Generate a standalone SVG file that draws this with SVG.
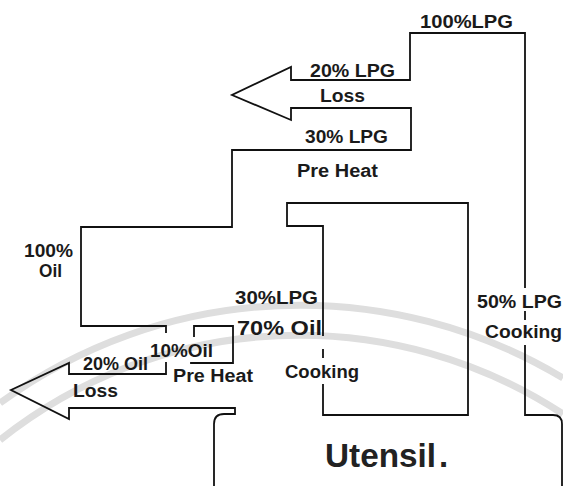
<svg xmlns="http://www.w3.org/2000/svg" width="563" height="486" viewBox="0 0 563 486">
<style>
.ln{fill:none;stroke:#111;stroke-width:1.8;stroke-linejoin:miter;stroke-linecap:square}
.t{font-family:"Liberation Sans",Arial,sans-serif;font-weight:bold;font-size:17.5px;fill:#1a1a1a}
.big{font-size:20px}
.ut{font-family:"Liberation Sans",Arial,sans-serif;font-weight:bold;font-size:33px;fill:#222}
.wm{fill:none;stroke:#dedede;stroke-width:7}
</style>
<rect width="563" height="486" fill="#fff"/>
<g id="watermark">
<path class="wm" d="M 0 403 A 510 510 0 0 1 563 378"/>
<path class="wm" d="M 0 440 A 480 480 0 0 1 563 414"/>
</g>
<g id="connectors">
<path id="lpg-flow" class="ln" d="M 525 287 L 525 33 L 410 33 L 410 80 L 291 80 L 291 67 L 232 95 L 291 120 L 291 108 L 411 108 L 411 150 L 232 150 L 232 227 L 81 227 L 81 326 L 166 326 L 166 332"/>
<path class="ln" d="M 525 312 V 319 M 525 346 V 415 H 553 Q 562 415 562 424 V 490"/>
<path id="oil-loss" class="ln" d="M 166 363 V 374 H 69 V 363 L 11 390 L 69 419 V 408 H 235 V 414 H 224 Q 214 414 214 424 V 490"/>
</g>
<g id="cooking-box">
<path class="ln" d="M 323 335 V 226 H 287 V 203 H 468 V 415 H 323 V 385 M 323 350 V 357"/>
</g>
<g id="preheat-box">
<path class="ln" d="M 194 336 V 326 H 233 V 363 H 191"/>
</g>
<g id="labels">
<text class="t" x="420" y="28" textLength="93" lengthAdjust="spacingAndGlyphs">100%LPG</text>
<text class="t" x="310" y="77" textLength="85" lengthAdjust="spacingAndGlyphs">20% LPG</text>
<text class="t" x="320" y="102" textLength="45" lengthAdjust="spacingAndGlyphs">Loss</text>
<text class="t" x="305" y="143" textLength="83" lengthAdjust="spacingAndGlyphs">30% LPG</text>
<text class="t" x="297" y="177" textLength="81" lengthAdjust="spacingAndGlyphs">Pre Heat</text>
<text class="t" x="24" y="257" textLength="49" lengthAdjust="spacingAndGlyphs">100%</text>
<text class="t" x="39" y="277" textLength="23" lengthAdjust="spacingAndGlyphs">Oil</text>
<text class="t" x="235" y="304" textLength="83" lengthAdjust="spacingAndGlyphs">30%LPG</text>
<text class="t big" x="237" y="335" textLength="85" lengthAdjust="spacingAndGlyphs">70% Oil</text>
<text class="t" x="150" y="357" textLength="63" lengthAdjust="spacingAndGlyphs">10%Oil</text>
<text class="t" x="83" y="370" textLength="65" lengthAdjust="spacingAndGlyphs">20% Oil</text>
<text class="t" x="173" y="382" textLength="80" lengthAdjust="spacingAndGlyphs">Pre Heat</text>
<text class="t" x="73" y="397" textLength="45" lengthAdjust="spacingAndGlyphs">Loss</text>
<text class="t" x="285" y="378" textLength="74" lengthAdjust="spacingAndGlyphs">Cooking</text>
<text class="t" x="477" y="308" textLength="85" lengthAdjust="spacingAndGlyphs">50% LPG</text>
<text class="t" x="485" y="338" textLength="77" lengthAdjust="spacingAndGlyphs">Cooking</text>
</g>
<g id="utensil">
<text class="ut" x="325" y="467" textLength="111" lengthAdjust="spacingAndGlyphs">Utensil</text>
<text class="ut" x="439" y="467" font-size="14">.</text>
</g>
</svg>
